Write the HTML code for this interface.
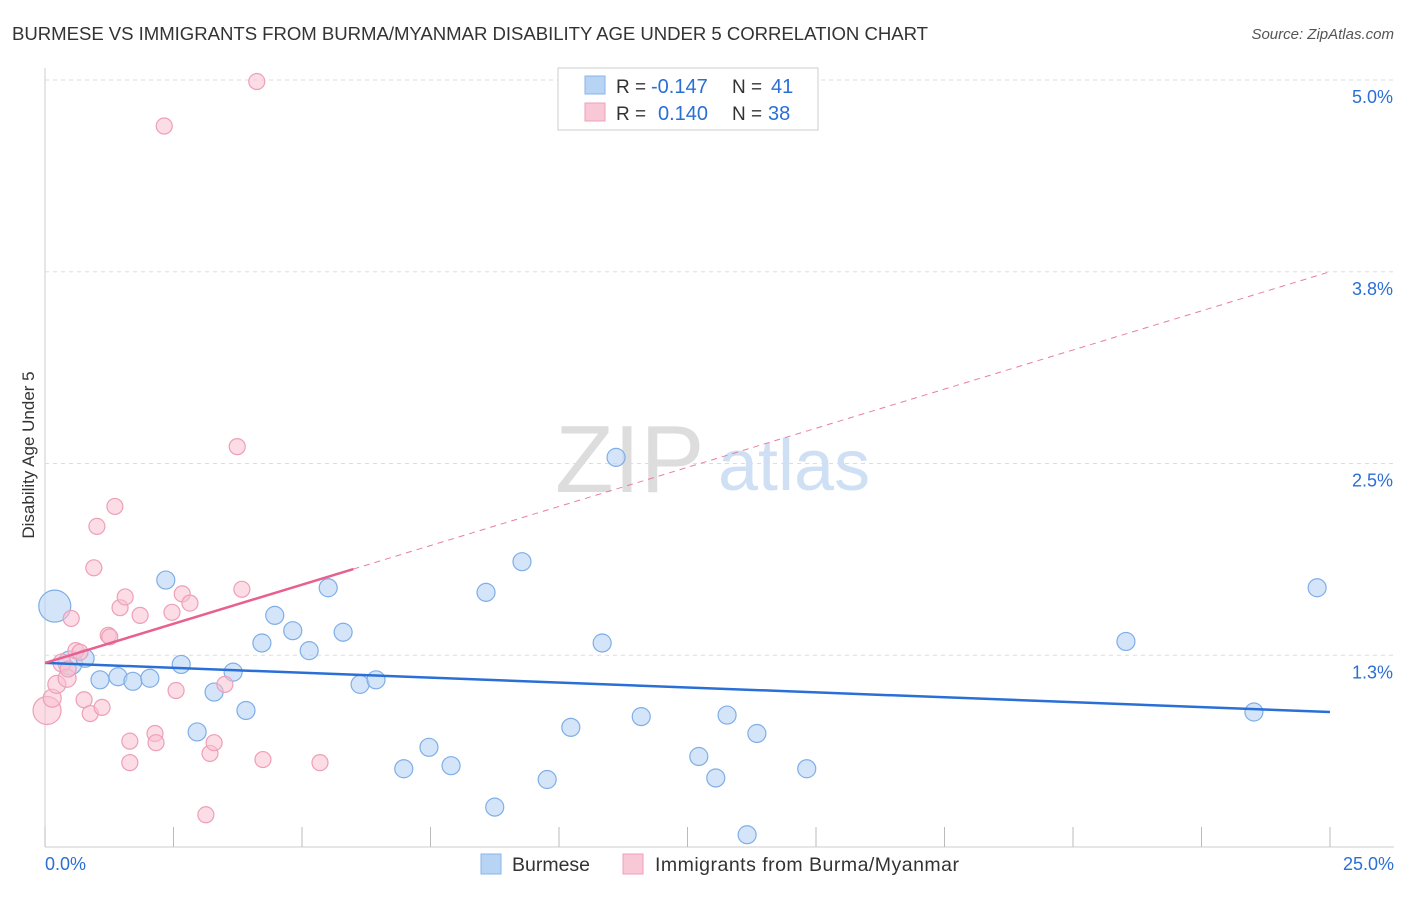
<!DOCTYPE html>
<html><head><meta charset="utf-8"><style>
body{margin:0;background:#fff;font-family:"Liberation Sans",sans-serif;}
svg text{font-family:"Liberation Sans",sans-serif;}
</style></head><body>
<svg id="chart" width="1406" height="892">
<text x="12" y="40" font-size="18.6" fill="#333" textLength="916">BURMESE VS IMMIGRANTS FROM BURMA/MYANMAR DISABILITY AGE UNDER 5 CORRELATION CHART</text>
<text x="1394" y="39" font-size="15" fill="#555" font-style="italic" text-anchor="end">Source: ZipAtlas.com</text>
<text x="34" y="455" font-size="17" fill="#333" text-anchor="middle" transform="rotate(-90 34 455)">Disability Age Under 5</text>
<g><text x="555" y="492" font-size="96" fill="#ddd" font-family="Liberation Serif,serif">ZIP</text><text x="718" y="490" font-size="72" fill="#cfe0f4">atlas</text></g>
<g id="grid"></g><g id="marks"></g>
<g>
<rect x="558" y="68" width="260" height="62" fill="#fff" stroke="#ccc"/>
<rect x="585" y="76" width="20" height="18" fill="#b8d4f5" stroke="#8ab4e8"/>
<rect x="585" y="103" width="20" height="18" fill="#f9c8d6" stroke="#f0a0b8"/>
<text x="616" y="93" font-size="19" fill="#333">R =</text>
<text x="651" y="93" font-size="20" fill="#2a6fd6">-0.147</text>
<text x="732" y="93" font-size="19" fill="#333">N =</text>
<text x="771" y="93" font-size="20" fill="#2a6fd6">41</text>
<text x="616" y="120" font-size="19" fill="#333">R =</text>
<text x="658" y="120" font-size="20" fill="#2a6fd6">0.140</text>
<text x="732" y="120" font-size="19" fill="#333">N =</text>
<text x="768" y="120" font-size="20" fill="#2a6fd6">38</text>
</g>
<g>
<rect x="481" y="854" width="20" height="20" fill="#b8d4f5" stroke="#8ab4e8"/>
<text x="512" y="871" font-size="19.5" fill="#333">Burmese</text>
<rect x="623" y="854" width="20" height="20" fill="#f9c8d6" stroke="#f0a0b8"/>
<text x="655" y="871" font-size="19.5" fill="#333" textLength="304">Immigrants from Burma/Myanmar</text>
</g>
</svg>
<script>
const yTicks=[5.0,3.75,2.5,1.25];
const yTickLabels=["5.0%","3.8%","2.5%","1.3%"];
const blueX=[0.19,0.49,0.78,1.07,1.42,1.71,2.04,2.35,2.65,2.96,3.29,3.66,3.91,4.22,4.47,4.82,5.14,5.51,5.80,6.13,6.44,6.98,7.47,7.90,8.58,8.75,9.28,9.77,10.23,10.84,11.11,11.60,12.72,13.05,13.27,13.66,13.85,14.82,21.03,23.52,24.75];
const blueY=[1.57,1.20,1.23,1.09,1.11,1.08,1.10,1.74,1.19,0.75,1.01,1.14,0.89,1.33,1.51,1.41,1.28,1.69,1.40,1.06,1.09,0.51,0.65,0.53,1.66,0.26,1.86,0.44,0.78,1.33,2.54,0.85,0.59,0.45,0.86,0.08,0.74,0.51,1.34,0.88,1.69];
const blueR=[16,12,9,9,9,9,9,9,9,9,9,9,9,9,9,9,9,9,9,9,9,9,9,9,9,9,9,9,9,9,9,9,9,9,9,9,9,9,9,9,9];
const pinkX=[0.04,0.14,0.23,0.33,0.43,0.51,0.60,0.68,0.76,0.88,0.95,1.01,1.11,1.23,1.26,1.36,1.46,1.56,1.65,1.65,1.85,2.14,2.16,2.32,2.47,2.55,2.67,2.82,3.13,3.21,3.29,3.50,3.74,3.83,4.12,4.24,5.35,0.45];
const pinkY=[0.89,0.97,1.06,1.20,1.10,1.49,1.28,1.27,0.96,0.87,1.82,2.09,0.91,1.38,1.37,2.22,1.56,1.63,0.69,0.55,1.51,0.74,0.68,4.70,1.53,1.02,1.65,1.59,0.21,0.61,0.68,1.06,2.61,1.68,4.99,0.57,0.55,1.16];
const pinkR=[14,9,9,9,9,8,8,8,8,8,8,8,8,8,8,8,8,8,8,8,8,8,8,8,8,8,8,8,8,8,8,8,8,8,8,8,8,8];
const blueTrend=[1.20,0.88];
const pinkTrend=[1.20,3.75];
const pinkSolidEnd=6.0;
const X0=45,X1=1330,Y0=847,PXPER=153.4;
const sx=v=>X0+v/25*(X1-X0);
const sy=v=>Y0-v*PXPER;
const NS="http://www.w3.org/2000/svg";
function mk(t,a,p){const e=document.createElementNS(NS,t);for(const k in a)e.setAttribute(k,a[k]);p.appendChild(e);return e;}
const grid=document.getElementById('grid'),marks=document.getElementById('marks');
mk('line',{x1:X0,y1:68,x2:X0,y2:Y0,stroke:'#ccc'},grid);
mk('line',{x1:X0,y1:Y0,x2:1394,y2:Y0,stroke:'#ccc'},grid);
yTicks.forEach((t,i)=>{
 const g=mk('line',{x1:X0,y1:sy(t),x2:1394,y2:sy(t),stroke:'#ddd','stroke-dasharray':'4,4'},grid);
 
 
 const l=mk('text',{x:1393,y:sy(t)+23,'font-size':18,fill:'#2a6fd6','text-anchor':'end'},grid);
 l.textContent=yTickLabels[i];
 
 
});
for(let i=0;i<=10;i++){const x=sx(i*2.5);const tk=mk('line',{x1:x,y1:827,x2:x,y2:Y0,stroke:'#bbb'},grid);
 
 }
const xl0=mk('text',{x:45,y:870,'font-size':18,fill:'#2a6fd6'},grid);xl0.textContent='0.0%';


const xl1=mk('text',{x:1394,y:870,'font-size':18,fill:'#2a6fd6','text-anchor':'end'},grid);xl1.textContent='25.0%';


blueX.forEach((v,i)=>{const c=mk('circle',{cx:sx(v),cy:sy(blueY[i]),r:blueR[i],fill:'rgba(184,212,245,0.6)',stroke:'#7faee6','stroke-width':1.2},marks);
 
 });
pinkX.forEach((v,i)=>{const c=mk('circle',{cx:sx(v),cy:sy(pinkY[i]),r:pinkR[i],fill:'rgba(249,192,208,0.55)',stroke:'#ee9fb8','stroke-width':1.2},marks);
 
 });
const pAt=x=>pinkTrend[0]+(pinkTrend[1]-pinkTrend[0])*x/25;
const bt=mk('line',{x1:sx(0),y1:sy(blueTrend[0]),x2:sx(25),y2:sy(blueTrend[1]),stroke:'#2a6fd6','stroke-width':2.5},marks);


const pd=mk('line',{x1:sx(pinkSolidEnd),y1:sy(pAt(pinkSolidEnd)),x2:sx(25),y2:sy(pinkTrend[1]),stroke:'#e87fa0','stroke-width':1,'stroke-dasharray':'6,5'},marks);


const ps=mk('line',{x1:sx(0),y1:sy(pinkTrend[0]),x2:sx(pinkSolidEnd),y2:sy(pAt(pinkSolidEnd)),stroke:'#e8608e','stroke-width':2.5},marks);


</script>
</body></html>
